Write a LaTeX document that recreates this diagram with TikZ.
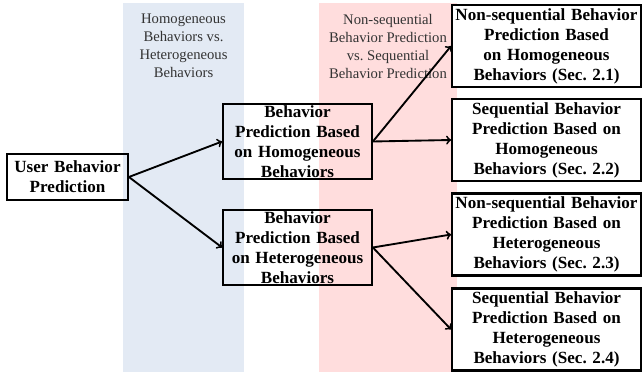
\documentclass[tikz,border=0pt]{standalone}
\usepackage{fontspec}
\setmainfont{Liberation Serif}
\usepackage{xcolor}
\usepackage{tikz}

\definecolor{homoband}{RGB}{227,234,244}
\definecolor{seqband}{RGB}{255,221,221}

\tikzset{
    box/.style={draw, line width=1.6pt, align=center, inner xsep=2pt, inner ysep=2pt,
        font=\bfseries\fontsize{12.8}{15}\selectfont},
    leafbox/.style={box, fill=white, text width=137.5pt, minimum height=61.5pt},
    midbox/.style={box, text width=107.5pt, inner ysep=1.2pt},
    bandlabel/.style={align=center, text=black!80, font=\fontsize{11}{13.5}\selectfont},
    arr/.style={->, line width=1.4pt}
}

\begin{document}
\begin{tikzpicture}[x=0.75pt, y=-0.75pt]
    % Canvas (pixel units, y downwards)
    \useasboundingbox (0,0) rectangle (642,373);

    % Background bands
    \fill[homoband] (123,3) rectangle (244,372);
    \fill[seqband] (319,3) rectangle (457,372);

    % Band labels
    \node[bandlabel] (homolabel) at (183.5,46) {Homogeneous\\Behaviors vs.\\Heterogeneous\\Behaviors};
    \node[bandlabel] (seqlabel) at (388,46) {Non-sequential\\Behavior Prediction\\vs.\ Sequential\\Behavior Prediction};

    % Root
    \node[box, text width=86.5pt, minimum height=34.5pt] (user) at (67.5,177) {User Behavior\\Prediction};

    % Middle level
    \node[midbox] (homo) at (297.5,141.5) {Behavior\\Prediction Based\\on Homogeneous\\Behaviors};
    \node[midbox] (hetero) at (297.5,247.5) {Behavior\\Prediction Based\\on Heterogeneous\\Behaviors};

    % Leaves
    \node[leafbox] (nshomo) at (546.5,46) {Non-sequential Behavior\\Prediction Based\\on Homogeneous\\Behaviors (Sec.\ 2.1)};
    \node[leafbox] (shomo) at (546.5,140) {Sequential Behavior\\Prediction Based on\\Homogeneous\\Behaviors (Sec.\ 2.2)};
    \node[leafbox] (nshetero) at (546.5,234.5) {Non-sequential Behavior\\Prediction Based on\\Heterogeneous\\Behaviors (Sec.\ 2.3)};
    \node[leafbox] (shetero) at (546.5,329.5) {Sequential Behavior\\Prediction Based on\\Heterogeneous\\Behaviors (Sec.\ 2.4)};

    % Arrows
    \draw[arr] (user.east) -- (homo.west);
    \draw[arr] (user.east) -- (hetero.west);
    \draw[arr] (homo.east) -- (nshomo.west);
    \draw[arr] (homo.east) -- (shomo.west);
    \draw[arr] (hetero.east) -- (nshetero.west);
    \draw[arr] (hetero.east) -- (shetero.west);
\end{tikzpicture}
\end{document}
